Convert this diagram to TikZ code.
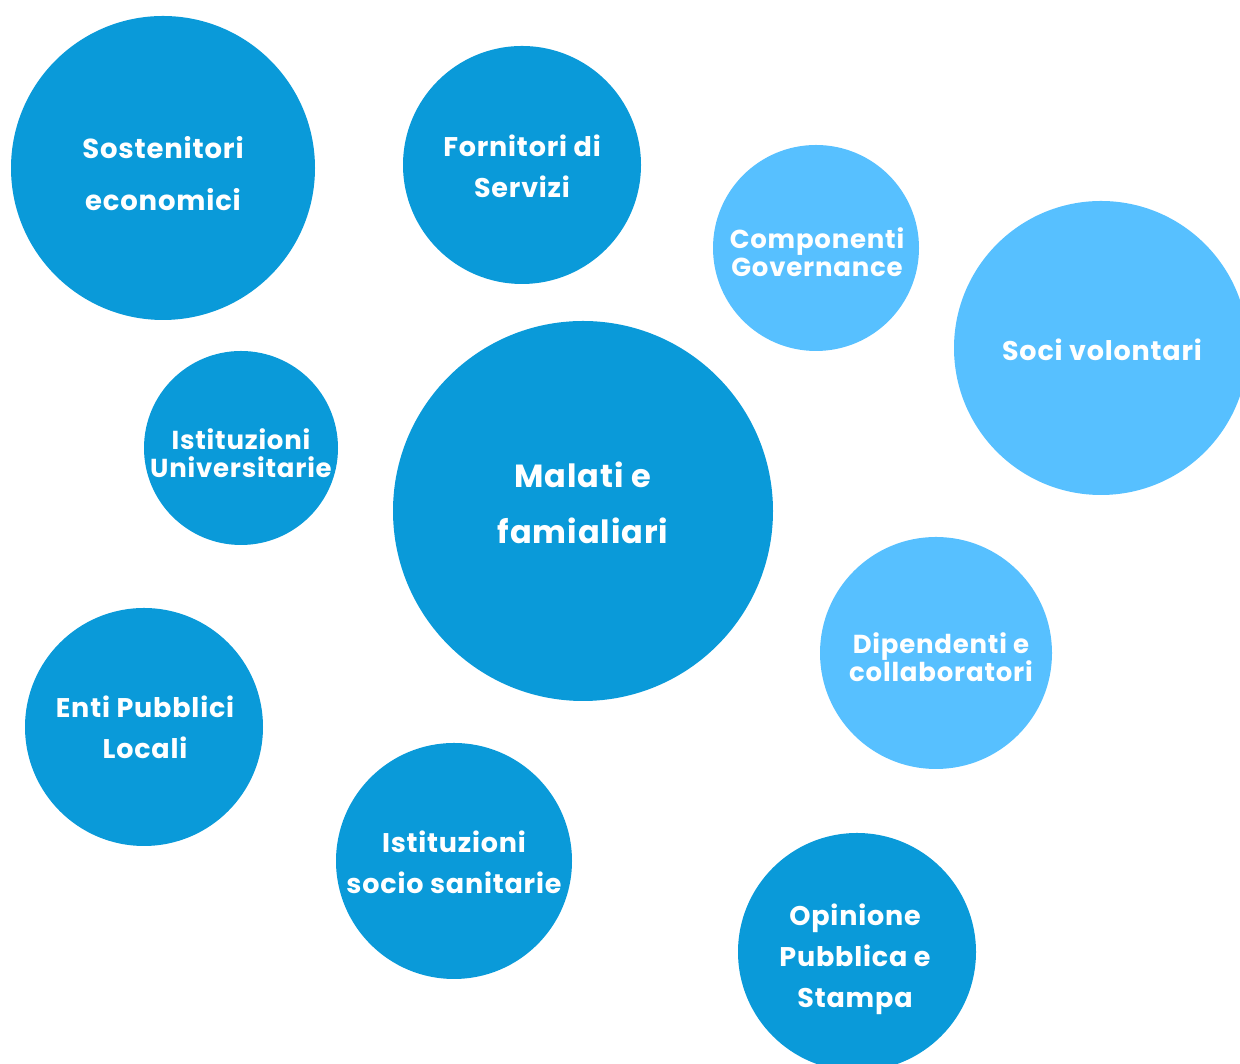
\documentclass[tikz,border=0pt]{standalone}
\usepackage{fontspec}
\setmainfont{Poppins}[LetterSpace=3]
\definecolor{bluedark}{HTML}{0A9AD9}
\definecolor{bluelight}{HTML}{57C0FF}
\begin{document}
\begin{tikzpicture}[x=1pt,y=1pt,
  bubble/.style={circle, inner sep=0pt, draw=none},
  dark/.style={bubble, fill=bluedark},
  light/.style={bubble, fill=bluelight},
  words/.style={text=white, align=center, inner sep=0pt, font=\bfseries\fontsize{27}{41}\selectfont},
  tight/.style={words, font=\bfseries\fontsize{26}{28}\selectfont},
  wide/.style={words, font=\bfseries\fontsize{27.5}{52}\selectfont},
  big/.style={words, font=\bfseries\fontsize{32}{56}\selectfont}]
\useasboundingbox (0,0) rectangle (1240,1064);
\clip (0,0) rectangle (1240,1064);
% bubbles
\node [dark, minimum size=304] (sost) at (163,896) {};
\node [dark, minimum size=238] (forn) at (522,899) {};
\node [light, minimum size=206] (comp) at (816,816) {};
\node [light, minimum size=294] (soci) at (1101,716) {};
\node [dark, minimum size=194] (univ) at (241,616) {};
\node [dark, minimum size=380] (mala) at (583,553) {};
\node [light, minimum size=232] (dipe) at (936,411) {};
\node [dark, minimum size=238] (enti) at (144,337) {};
\node [dark, minimum size=236] (sani) at (454,203) {};
\node [dark, minimum size=238] (opin) at (857,112) {};
% labels
\node [wide] (sostT) at (163,890) {Sostenitori\\economici};
\node [words] (fornT) at (522,898) {Fornitori di\\Servizi};
\node [tight] (compT) at (817,812) {Componenti\\Governance};
\node [words] (sociT) at (1102,714) {Soci volontari};
\node [tight] (univT) at (241,611) {Istituzioni\\Universitarie};
\node [big] (malaT) at (583,561) {Malati e\\famialiari};
\node [tight] (dipeT) at (941,407) {Dipendenti e\\collaboratori};
\node [words] (entiT) at (145,337) {Enti Pubblici\\Locali};
\node [words] (saniT) at (454,202) {Istituzioni\\socio sanitarie};
\node [words] (opinT) at (855,105) {Opinione\\Pubblica e\\Stampa};
\end{tikzpicture}
\end{document}
